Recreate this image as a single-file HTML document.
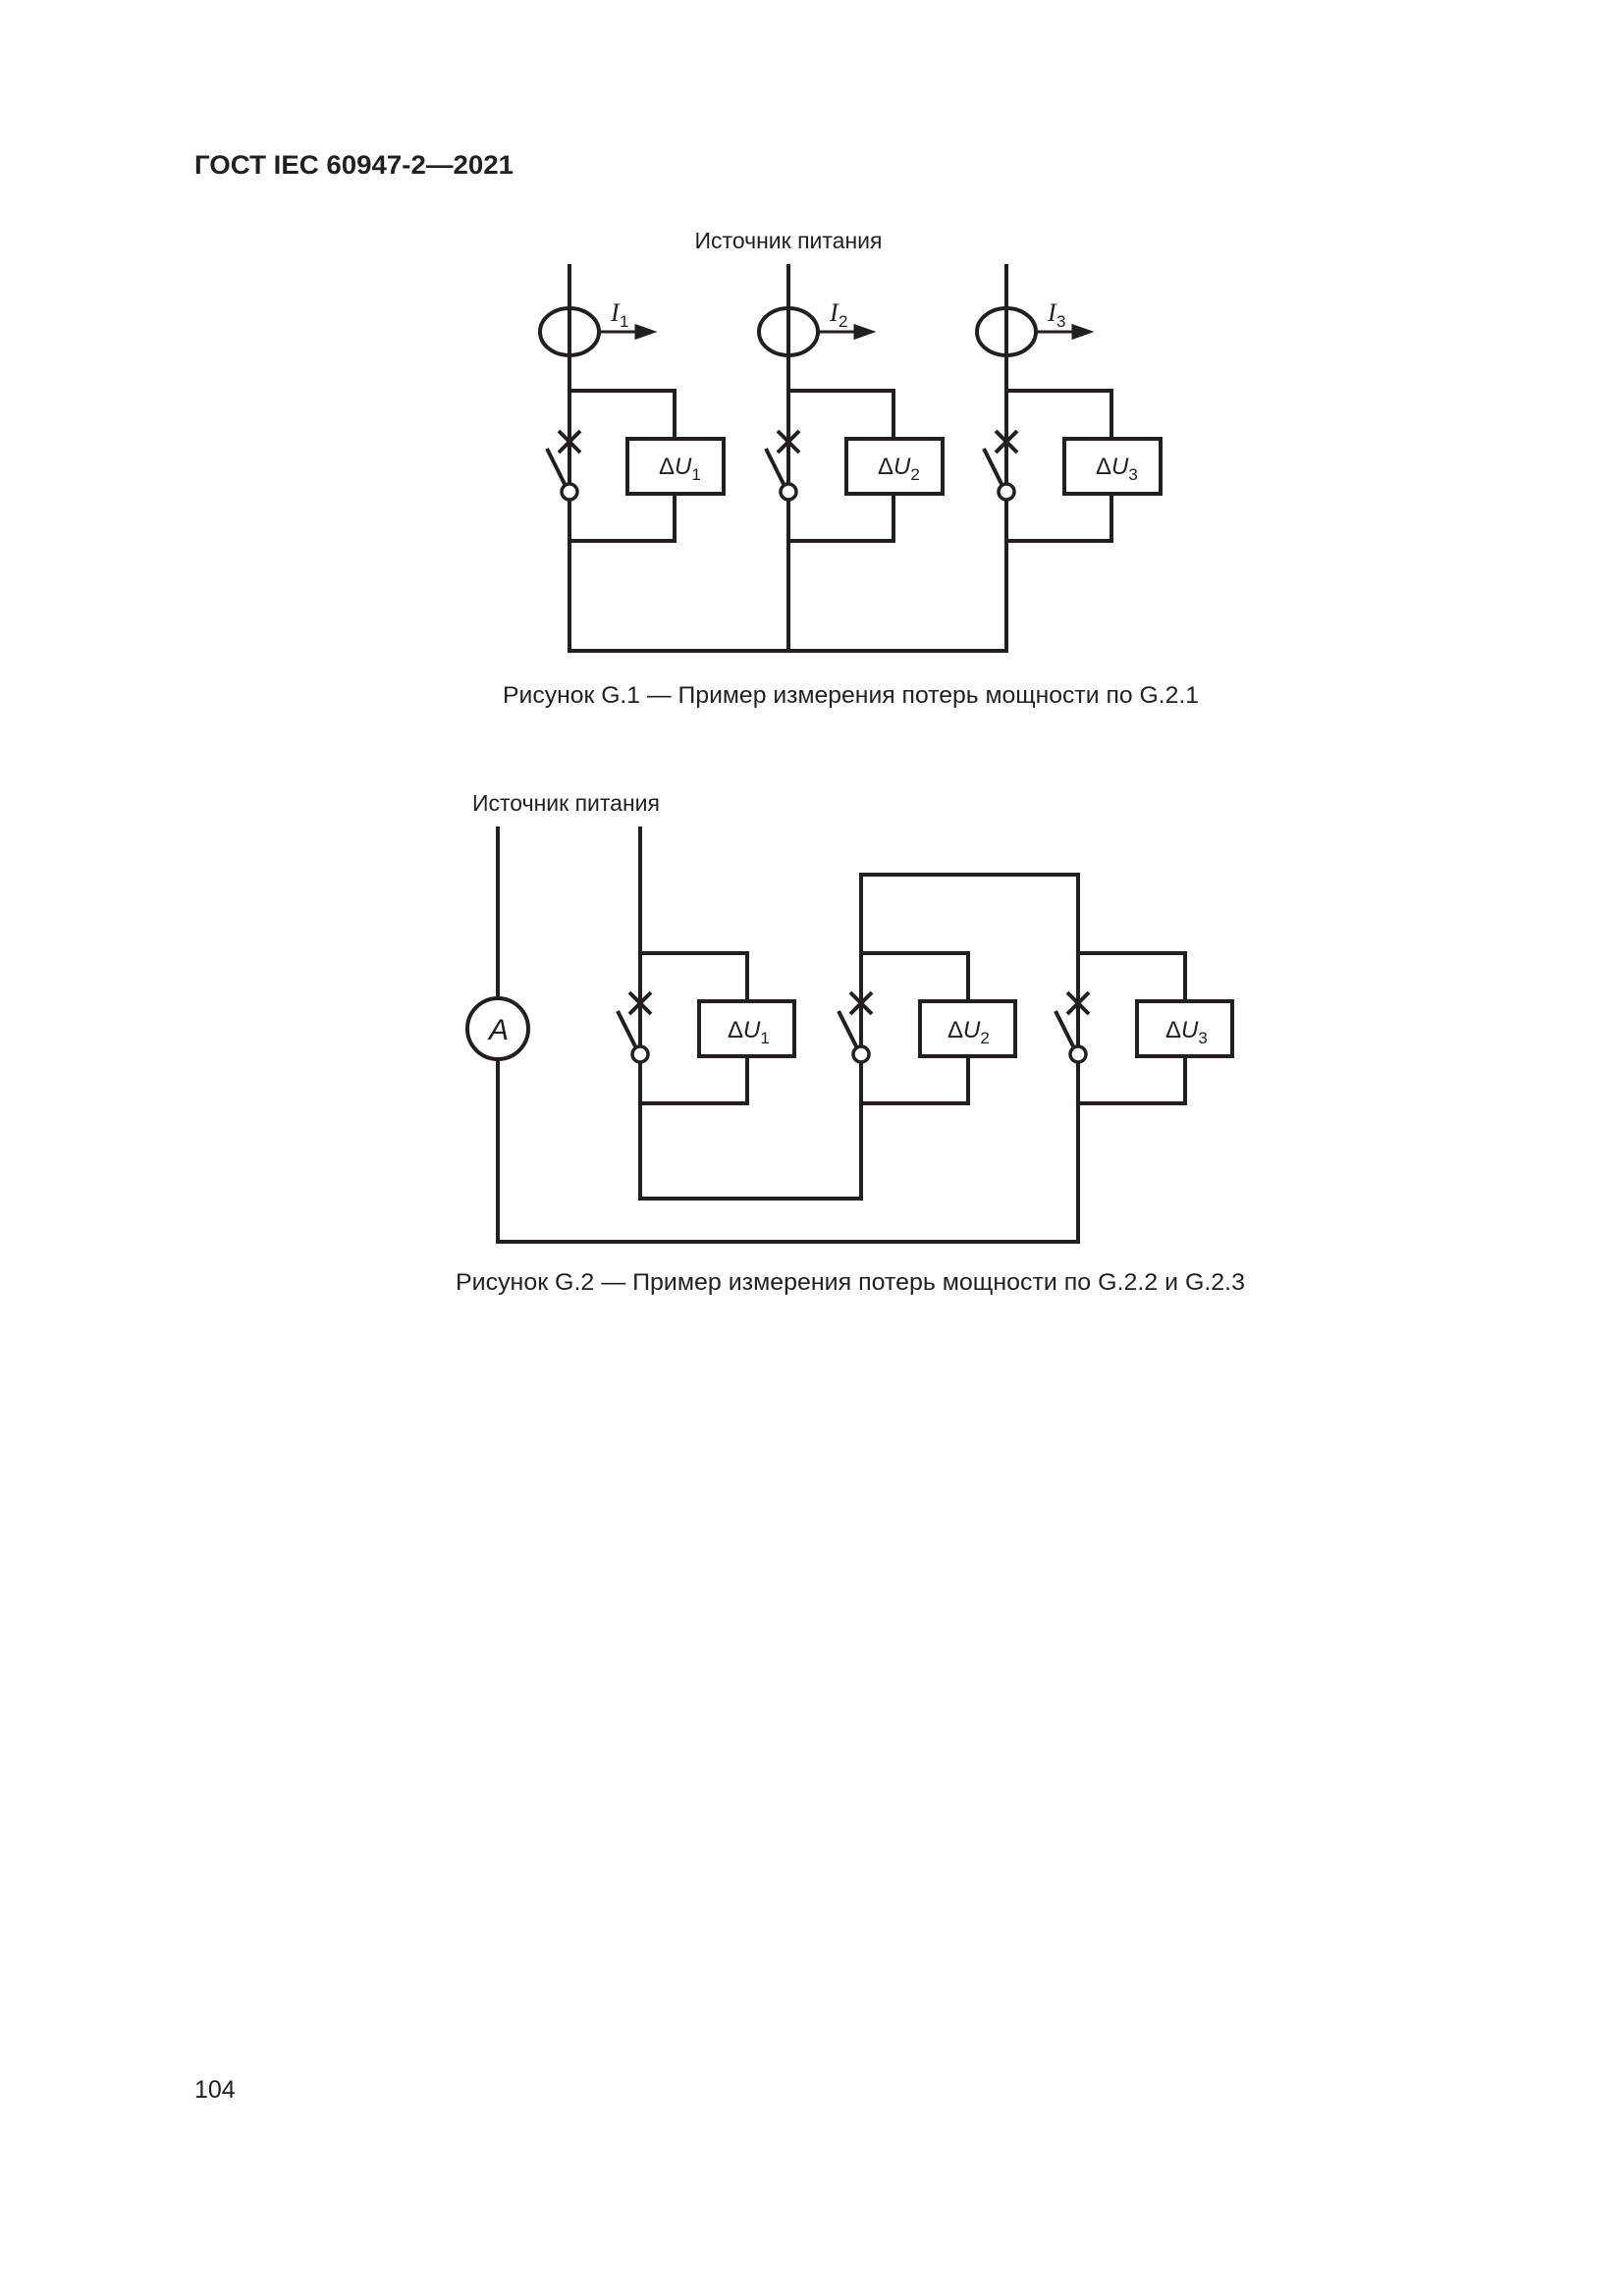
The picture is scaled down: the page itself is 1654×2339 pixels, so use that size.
<!DOCTYPE html>
<html><head><meta charset="utf-8"><style>
html,body{margin:0;padding:0;background:#fff}
svg{display:block}
text{font-family:"Liberation Sans",sans-serif;fill:#231f20}
text.ser{font-family:"Liberation Serif",serif;font-style:italic}
</style></head><body>
<svg width="1654" height="2339" viewBox="0 0 1654 2339" xmlns="http://www.w3.org/2000/svg">
<text x="198" y="177" font-size="27" font-weight="bold" textLength="325" lengthAdjust="spacingAndGlyphs">ГОСТ IEC 60947-2—2021</text>
<text x="803" y="253" font-size="23" text-anchor="middle">Источник питания</text>
<g stroke="#231f20" stroke-width="4" fill="none">
<g id="b1">
<line x1="580" y1="269" x2="580" y2="492"/>
<ellipse cx="580" cy="338" rx="30" ry="24"/>
<line x1="580" y1="398" x2="687" y2="398"/>
<line x1="687" y1="396" x2="687" y2="447"/>
<rect x="639" y="447" width="98" height="56"/>
<line x1="687" y1="503" x2="687" y2="553"/>
<line x1="580" y1="551" x2="689" y2="551"/>
<line x1="580" y1="509" x2="580" y2="663"/>
<line x1="569" y1="439" x2="591" y2="461"/>
<line x1="591" y1="439" x2="569" y2="461"/>
<line x1="557" y1="457" x2="575" y2="493"/>
<circle cx="580" cy="501" r="8" stroke-width="3.5" fill="#fff"/>
</g>
<use href="#b1" x="223"/>
<use href="#b1" x="445"/>
<line x1="578" y1="663" x2="1027" y2="663"/>
</g>
<g stroke="#231f20" stroke-width="3" fill="#231f20">
<line x1="610" y1="338" x2="650" y2="338"/><polygon points="648,332 665,338 648,344"/>
<line x1="833" y1="338" x2="873" y2="338"/><polygon points="871,332 888,338 871,344"/>
<line x1="1055" y1="338" x2="1095" y2="338"/><polygon points="1093,332 1110,338 1093,344"/>
</g>
<g font-size="24">
<text x="622" y="327" class="ser" font-size="26">I</text><text x="631" y="333" font-size="17">1</text>
<text x="845" y="327" class="ser" font-size="26">I</text><text x="854" y="333" font-size="17">2</text>
<text x="1067" y="327" class="ser" font-size="26">I</text><text x="1076" y="333" font-size="17">3</text>
<text x="671" y="483">Δ<tspan font-style="italic">U</tspan><tspan font-size="17" dy="6">1</tspan></text>
<text x="894" y="483">Δ<tspan font-style="italic">U</tspan><tspan font-size="17" dy="6">2</tspan></text>
<text x="1116" y="483">Δ<tspan font-style="italic">U</tspan><tspan font-size="17" dy="6">3</tspan></text>
</g>
<text x="512" y="716" font-size="24" textLength="709" lengthAdjust="spacingAndGlyphs">Рисунок G.1 — Пример измерения потерь мощности по G.2.1</text>

<text x="481" y="826" font-size="23">Источник питания</text>
<g stroke="#231f20" stroke-width="4" fill="none">
<line x1="507" y1="842" x2="507" y2="1017"/>
<circle cx="507" cy="1048" r="31"/>
<line x1="507" y1="1079" x2="507" y2="1267"/>
<line x1="505" y1="1265" x2="1100" y2="1265"/>
<g id="c1">
<line x1="652" y1="971" x2="761" y2="971"/>
<line x1="761" y1="969" x2="761" y2="1020"/>
<rect x="712" y="1020" width="97" height="56"/>
<line x1="761" y1="1076" x2="761" y2="1126"/>
<line x1="652" y1="1124" x2="763" y2="1124"/>
<line x1="641" y1="1011" x2="663" y2="1033"/>
<line x1="663" y1="1011" x2="641" y2="1033"/>
<line x1="629" y1="1030" x2="647" y2="1066"/>
<circle cx="652" cy="1074" r="8" stroke-width="3.5" fill="#fff"/>
</g>
<use href="#c1" x="225"/>
<use href="#c1" x="446"/>
<line x1="652" y1="842" x2="652" y2="1066"/>
<line x1="652" y1="1082" x2="652" y2="1223"/>
<line x1="650" y1="1221" x2="879" y2="1221"/>
<line x1="877" y1="889" x2="877" y2="1066"/>
<line x1="877" y1="1082" x2="877" y2="1223"/>
<line x1="875" y1="891" x2="1100" y2="891"/>
<line x1="1098" y1="889" x2="1098" y2="1066"/>
<line x1="1098" y1="1082" x2="1098" y2="1267"/>
</g>
<g font-size="24">
<text x="508" y="1059" font-size="30" font-style="italic" text-anchor="middle">A</text>
<text x="741" y="1057">Δ<tspan font-style="italic">U</tspan><tspan font-size="17" dy="6">1</tspan></text>
<text x="965" y="1057">Δ<tspan font-style="italic">U</tspan><tspan font-size="17" dy="6">2</tspan></text>
<text x="1187" y="1057">Δ<tspan font-style="italic">U</tspan><tspan font-size="17" dy="6">3</tspan></text>
</g>
<text x="464" y="1314" font-size="24" textLength="804" lengthAdjust="spacingAndGlyphs">Рисунок G.2 — Пример измерения потерь мощности по G.2.2 и G.2.3</text>
<text x="198" y="2137" font-size="25">104</text>
</svg>
</body></html>
